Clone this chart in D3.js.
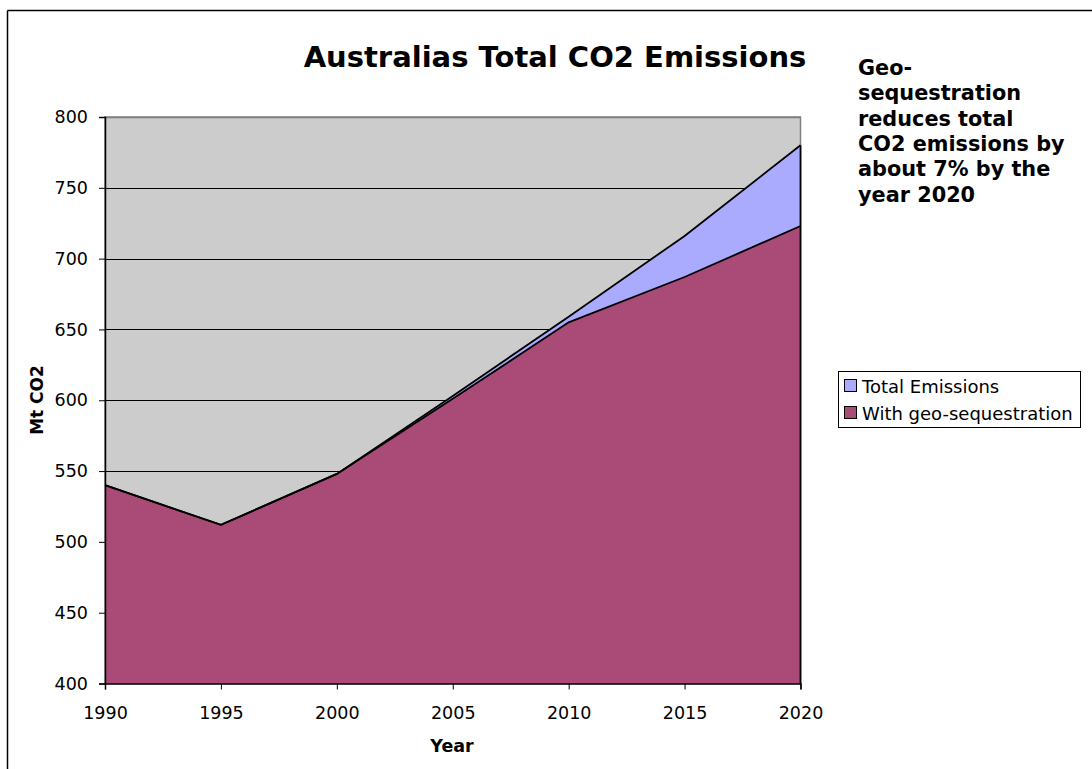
<!DOCTYPE html>
<html>
<head>
<meta charset="utf-8">
<script src="https://cdn.jsdelivr.net/npm/d3@7"></script>
<style>
  html, body { margin: 0; padding: 0; background: #fff; }
  svg { display: block; font-family: "DejaVu Sans", Verdana, sans-serif; }
</style>
</head>
<body>
<svg id="chart" width="1092" height="769"></svg>
<script>
const years = [1990, 1995, 2000, 2005, 2010, 2015, 2020];
const totalEmissions = [540, 512, 548, 603, 659, 716, 780];
const withGeoSequestration = [540, 512, 548, 601, 655, 687, 723];
const yTicks = [400, 450, 500, 550, 600, 650, 700, 750, 800];
const seriesNames = ["Total Emissions", "With geo-sequestration"];
const seriesColors = ["#aaaaff", "#aa4a76"];
const titleText = "Australias Total CO2 Emissions";
const noteLines = ["Geo-", "sequestration", "reduces total", "CO2 emissions by", "about 7% by the", "year 2020"];

const svg = d3.select("#chart");
const plot = { left: 105, right: 800.5, top: 117, bottom: 683.5 };

const x = d3.scaleLinear().domain([1990, 2020]).range([plot.left, plot.right]);
const y = d3.scaleLinear().domain([400, 800]).range([plot.bottom, plot.top]);

// outer frame (top and left edges visible)
svg.append("line").attr("x1", 7.5).attr("x2", 1092).attr("y1", 10.5).attr("y2", 10.5)
  .attr("stroke", "#000").attr("stroke-width", 1.5);
svg.append("line").attr("x1", 7.5).attr("x2", 7.5).attr("y1", 10.5).attr("y2", 769)
  .attr("stroke", "#000").attr("stroke-width", 1.5);

// plot background
svg.append("rect").attr("x", plot.left).attr("y", plot.top)
  .attr("width", plot.right - plot.left).attr("height", plot.bottom - plot.top)
  .attr("fill", "#cccccc").attr("stroke", "#808080").attr("stroke-width", 1.5);

// gridlines
svg.append("g").selectAll("line").data(yTicks.filter(d => d > 400)).join("line")
  .attr("x1", plot.left).attr("x2", plot.right)
  .attr("y1", d => Math.round(y(d)) + 0.5).attr("y2", d => Math.round(y(d)) + 0.5)
  .attr("stroke", d => d === 800 ? "#808080" : "#000").attr("stroke-width", d => d === 800 ? 1.5 : 1);

const totalData = years.map((yr, i) => ({ yr, v: totalEmissions[i] }));
const geoData = years.map((yr, i) => ({ yr, v: withGeoSequestration[i] }));

const area = d3.area().x(d => x(d.yr)).y0(y(400)).y1(d => y(d.v));
const line = d3.line().x(d => x(d.yr)).y(d => y(d.v));

svg.append("path").datum(totalData).attr("d", area).attr("fill", seriesColors[0]);
svg.append("path").datum(geoData).attr("d", area).attr("fill", seriesColors[1]);
svg.append("path").datum(totalData).attr("d", line).attr("fill", "none")
  .attr("stroke", "#000").attr("stroke-width", 1.8);
svg.append("path").datum(geoData).attr("d", line).attr("fill", "none")
  .attr("stroke", "#000").attr("stroke-width", 1.8);
// right edge of the area
svg.append("line").attr("x1", x(2020)).attr("x2", x(2020))
  .attr("y1", y(totalEmissions[totalEmissions.length - 1])).attr("y2", plot.bottom)
  .attr("stroke", "#000").attr("stroke-width", 1.8);

// axes
const yAxis = d3.axisLeft(y).tickValues(yTicks).tickSize(6).tickPadding(11).tickFormat(d3.format("d"));
const gy = svg.append("g").attr("transform", `translate(${plot.left},0)`).call(yAxis);
gy.select(".domain").attr("stroke", "#000").attr("stroke-width", 1.5);
gy.selectAll(".tick line").attr("stroke", "#000");
gy.selectAll(".tick text").attr("font-size", 17.5).attr("fill", "#000")
  .attr("font-family", "DejaVu Sans, Verdana, sans-serif");

const xAxis = d3.axisBottom(x).tickValues(years).tickSize(6).tickPadding(17).tickFormat(d3.format("d"));
const gx = svg.append("g").attr("transform", `translate(0,${plot.bottom})`).call(xAxis);
gx.select(".domain").attr("stroke", "#000").attr("stroke-width", 1.5);
gx.selectAll(".tick line").attr("stroke", "#000");
gx.selectAll(".tick text").attr("font-size", 17.5).attr("fill", "#000")
  .attr("font-family", "DejaVu Sans, Verdana, sans-serif");

// title
svg.append("text").attr("x", 555).attr("y", 67).attr("text-anchor", "middle")
  .attr("font-size", 29).attr("font-weight", "bold").text(titleText);

// axis titles
svg.append("text").attr("x", 452).attr("y", 752).attr("text-anchor", "middle")
  .attr("font-size", 17.5).attr("font-weight", "bold").text("Year");
svg.append("text").attr("transform", "translate(43,400) rotate(-90)").attr("text-anchor", "middle")
  .attr("font-size", 17).attr("font-weight", "bold").text("Mt CO2");

// note
svg.append("g").selectAll("text").data(noteLines).join("text")
  .attr("x", 858).attr("y", (d, i) => 75 + i * 25.3)
  .attr("font-size", 20.8).attr("font-weight", "bold").text(d => d);

// legend
const lg = svg.append("g");
lg.append("rect").attr("x", 838.5).attr("y", 371.5).attr("width", 242).attr("height", 56)
  .attr("fill", "#fff").attr("stroke", "#000").attr("stroke-width", 1);
const items = lg.selectAll("g.item").data(seriesNames).join("g").attr("class", "item")
  .attr("transform", (d, i) => `translate(0,${386 + i * 27})`);
items.append("rect").attr("x", 844.5).attr("y", -6.5).attr("width", 12).attr("height", 12)
  .attr("fill", (d, i) => seriesColors[i]).attr("stroke", "#000").attr("stroke-width", 1);
items.append("text").attr("x", 862).attr("y", 6.5).attr("font-size", 18).text(d => d);
</script>
</body>
</html>
